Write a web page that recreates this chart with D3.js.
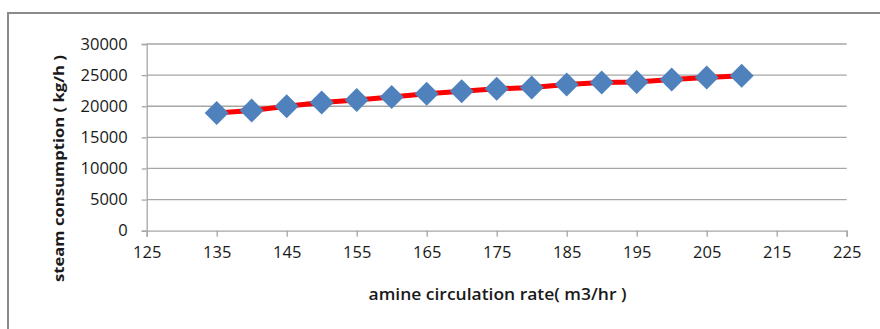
<!DOCTYPE html>
<html>
<head>
<meta charset="utf-8">
<script src="https://cdn.jsdelivr.net/npm/d3@7/dist/d3.min.js"></script>
<style>
  html, body { margin: 0; padding: 0; background: #fff; }
  svg { display: block; }
</style>
</head>
<body>
<svg id="chart" width="880" height="329"></svg>
<script>
// Amine circulation rate (m3/hr) vs steam consumption (kg/h)
const circulationRate = [135, 140, 145, 150, 155, 160, 165, 170, 175, 180, 185, 190, 195, 200, 205, 210];
const steamConsumption = [18900, 19300, 20000, 20600, 21000, 21500, 22000, 22400, 22800, 23000, 23500, 23800, 23900, 24300, 24600, 24900];
const xTicks = [125, 135, 145, 155, 165, 175, 185, 195, 205, 215, 225];
const yTicks = [0, 5000, 10000, 15000, 20000, 25000, 30000];
const xTitle = "amine circulation rate( m3/hr )";
const yTitle = "steam consumption ( kg/h )";

const svg = d3.select("#chart");
const W = 880, H = 329;
const plot = { left: 146.7, right: 846.7, top: 44, bottom: 230.7 };

// outer chart frame (only left and top edges fall inside the view)
svg.append("rect")
  .attr("x", 8).attr("y", 13)
  .attr("width", 1000).attr("height", 1000)
  .attr("fill", "none")
  .attr("stroke", "#8a8a8a")
  .attr("stroke-width", 2);

const x = d3.scaleLinear().domain([125, 225]).range([plot.left, plot.right]);
const y = d3.scaleLinear().domain([0, 30000]).range([plot.bottom, plot.top]);

const gridColor = "#a6a6a6";
const font = "'Open Sans', 'Liberation Sans', sans-serif";

// horizontal gridlines
svg.append("g")
  .selectAll("line")
  .data(yTicks.filter(d => d > 0))
  .join("line")
  .attr("x1", plot.left).attr("x2", plot.right)
  .attr("y1", d => y(d)).attr("y2", d => y(d))
  .attr("stroke", gridColor)
  .attr("stroke-width", 1.3);

// y axis
const yAxis = svg.append("g")
  .attr("transform", `translate(${plot.left},0)`)
  .call(d3.axisLeft(y).tickValues(yTicks).tickSize(5).tickPadding(14).tickFormat(d3.format("d")));
yAxis.select(".domain").attr("stroke", gridColor).attr("stroke-width", 1.3);
yAxis.selectAll(".tick line").attr("stroke", gridColor).attr("stroke-width", 1.3);
yAxis.selectAll(".tick text")
  .attr("font-family", font)
  .attr("font-size", 16.5)
  .attr("fill", "#1a1a1a");

// x axis
const xAxis = svg.append("g")
  .attr("transform", `translate(0,${plot.bottom})`)
  .call(d3.axisBottom(x).tickValues(xTicks).tickSize(6).tickPadding(10).tickFormat(d3.format("d")));
xAxis.select(".domain").attr("stroke", gridColor).attr("stroke-width", 1.3);
xAxis.selectAll(".tick line").attr("stroke", gridColor).attr("stroke-width", 1.3);
xAxis.selectAll(".tick text")
  .attr("font-family", font)
  .attr("font-size", 16.5)
  .attr("fill", "#1a1a1a");

// data line
const pts = circulationRate.map((r, i) => [r, steamConsumption[i]]);
svg.append("path")
  .datum(pts)
  .attr("fill", "none")
  .attr("stroke", "#ff0000")
  .attr("stroke-width", 5)
  .attr("d", d3.line().x(d => x(d[0])).y(d => y(d[1])));

// diamond markers
const r = 12;
svg.append("g")
  .selectAll("path")
  .data(pts)
  .join("path")
  .attr("transform", d => `translate(${x(d[0])},${y(d[1])})`)
  .attr("d", `M0,${-r}L${r},0L0,${r}L${-r},0Z`)
  .attr("fill", "#4f81bd");

// axis titles
svg.append("text")
  .attr("x", 497.5).attr("y", 300)
  .attr("text-anchor", "middle")
  .attr("font-family", font)
  .attr("font-weight", 600)
  .attr("font-size", 16)
  .attr("fill", "#1a1a1a")
  .attr("textLength", 258)
  .attr("lengthAdjust", "spacingAndGlyphs")
  .text(xTitle);

svg.append("text")
  .attr("transform", "translate(64,168.5) rotate(-90)")
  .attr("text-anchor", "middle")
  .attr("font-family", font)
  .attr("font-weight", 700)
  .attr("font-size", 15)
  .attr("fill", "#1a1a1a")
  .attr("textLength", 227)
  .attr("lengthAdjust", "spacingAndGlyphs")
  .text(yTitle);
</script>
</body>
</html>
